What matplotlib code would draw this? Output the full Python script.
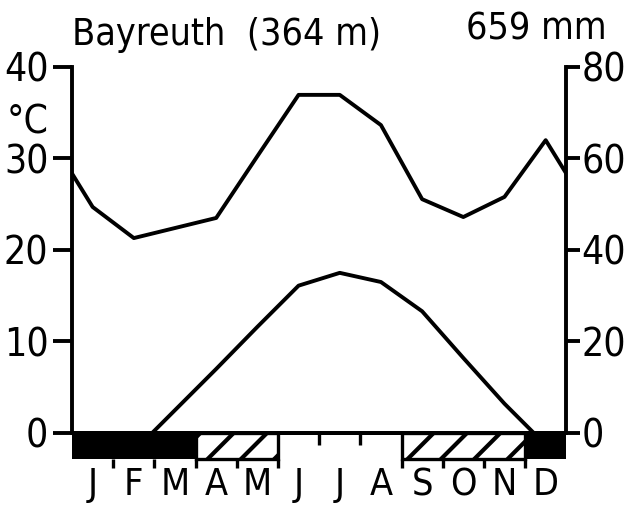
import numpy as np
import matplotlib
matplotlib.use("Agg")
from matplotlib import pyplot as plt

months = ["J", "F", "M", "A", "M", "J", "J", "A", "S", "O", "N", "D"]
temp = [-2.5, -2.0, 2.5, 7.0, 11.6, 16.1, 17.5, 16.5, 13.3, 8.2, 3.2, -1.3]
precip = [49.4, 42.6, 44.8, 47.0, 60.5, 73.9, 73.9, 67.3, 51.1, 47.2, 51.6, 64.0]
# 2 = black bar, 1 = hatched bar, 0 = nothing
frost = [2, 2, 2, 1, 1, 0, 0, 0, 1, 1, 1, 2]
station = "Bayreuth  (364 m)"
total = "659 mm"

plt.rcParams['font.family'] = ['DejaVu Sans']
plt.rcParams['font.stretch'] = 'condensed'
plt.rcParams['hatch.linewidth'] = 3.0

LW = 2.8
BAR = -2.8
FS = 28

fig = plt.figure(figsize=(6.32, 5.05), dpi=100)
ax = fig.add_axes([0.114, 0.1426, 0.782, 0.7248])
ax2 = ax.twinx()

mid = np.arange(12) + 0.5
# wrap the curves to the edges (mean of Dec and Jan)
xs = np.concatenate([[0], mid, [12]])
t_edge = (temp[0] + temp[-1]) / 2
p_edge = (precip[0] + precip[-1]) / 2
ax.plot(xs, [t_edge] + temp + [t_edge], color="black", lw=LW)
ax2.plot(xs, [p_edge] + precip + [p_edge], color="black", lw=LW)

ax.set_xlim(0, 12)
ax.set_ylim(0, 40)
ax2.set_ylim(0, 80)

# frost bars under the zero line
for i, f in enumerate(frost):
    if f == 2:
        ax.bar(mid[i], BAR, width=1, bottom=0, color="black", lw=0, clip_on=False)
    elif f == 1:
        ax.bar(mid[i], BAR, width=1, bottom=0, color="white", edgecolor="black",
               hatch="/", lw=0, clip_on=False)
i = 0
while i < 12:
    if frost[i] == 1:
        j = i
        while j < 12 and frost[j] == 1:
            j += 1
        ax.bar((i + j) / 2, BAR, width=j - i, bottom=0, fill=False, edgecolor="black",
               lw=LW - 0.4, clip_on=False)
        i = j
    else:
        i += 1

for b in range(1, 12):
    if frost[b - 1] or frost[b]:
        ax.vlines(b, BAR - 1.0, BAR, color="black", lw=LW - 0.4, clip_on=False)
    else:
        ax.vlines(b, -1.3, 0, color="black", lw=LW - 0.4, clip_on=False)

for a in (ax, ax2):
    a.spines["top"].set_visible(False)
    a.spines["bottom"].set_linewidth(LW)
ax.spines["right"].set_visible(False)
ax2.spines["left"].set_visible(False)
ax.spines["left"].set_linewidth(LW)
ax2.spines["right"].set_linewidth(LW)

ax.set_yticks([0, 10, 20, 30, 40])
ax2.set_yticks([0, 20, 40, 60, 80])
ax.tick_params(axis="y", direction="out", length=14, width=LW, labelsize=FS, pad=3)
ax2.tick_params(axis="y", direction="out", length=10, width=LW, labelsize=FS, pad=1)
ax.set_xticks(mid, months)
ax.tick_params(axis="x", length=0, labelsize=27, pad=45)
for lab in ax.get_xticklabels():
    lab.set_verticalalignment("baseline")

fig.text(0.114, 0.911, station, fontsize=27, ha="left", va="baseline")
fig.text(0.960, 0.921, total, fontsize=27, ha="right", va="baseline")
fig.text(0.044, 0.758, "°C", fontsize=FS, ha="center", va="center")

plt.savefig("out.png", dpi=100)
